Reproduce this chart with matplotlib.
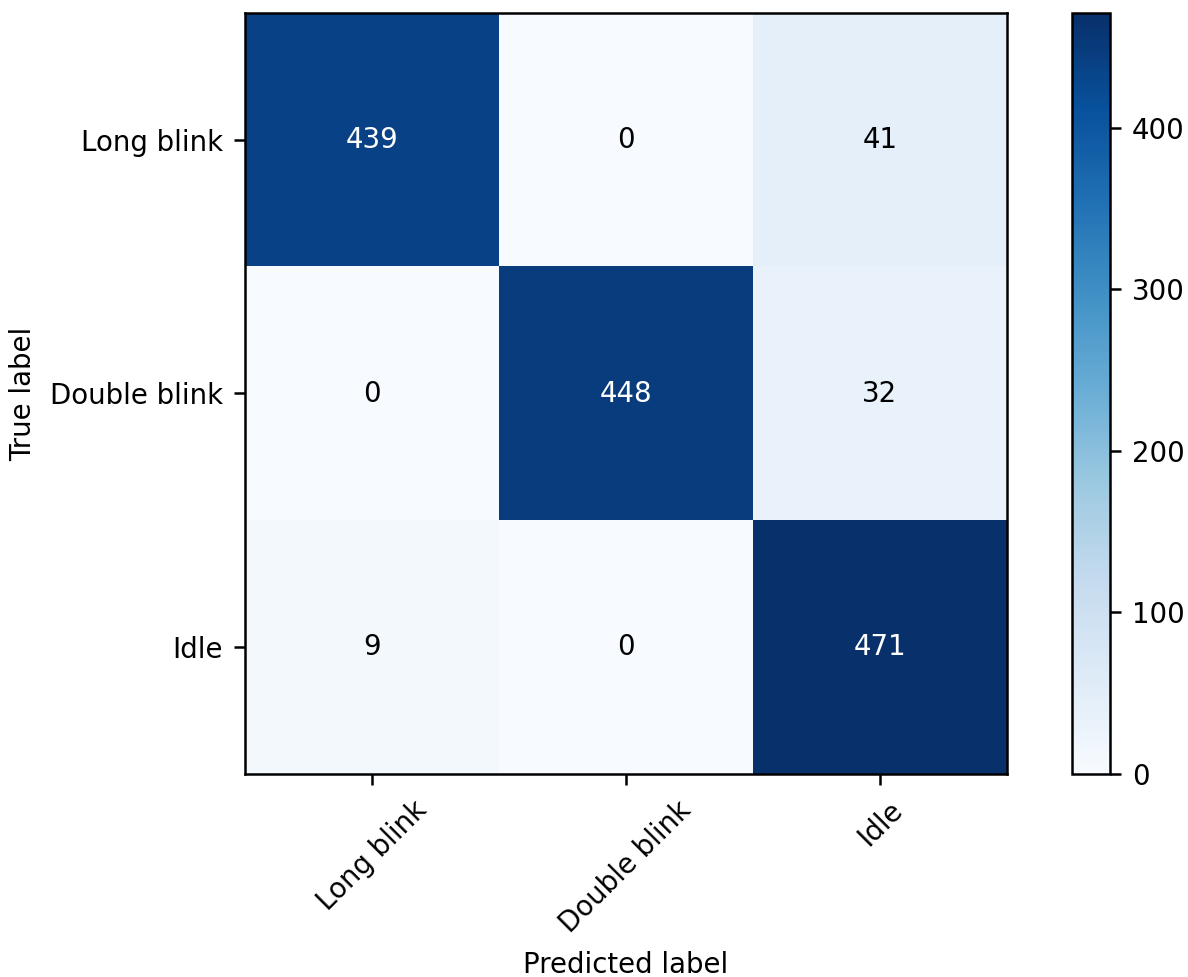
import numpy as np
import matplotlib
matplotlib.use("Agg")
import matplotlib.pyplot as plt

classes = ["Long blink", "Double blink", "Idle"]
row_long_blink = [439, 0, 41]
row_double_blink = [0, 448, 32]
row_idle = [9, 0, 471]
cm = np.array([row_long_blink, row_double_blink, row_idle])

plt.rcParams["font.size"] = 8.85

DPI = 225
fig = plt.figure(figsize=(1188 / DPI, 977 / DPI), dpi=DPI)
ax = fig.add_axes([245 / 1188, 1 - 774 / 977, (1007 - 245) / 1188, (774 - 13) / 977])
cax = fig.add_axes([1072 / 1188, 1 - 774 / 977, 38 / 1188, (774 - 13) / 977])

im = ax.imshow(cm, interpolation="nearest", cmap=plt.cm.Blues, aspect="auto")
cb = fig.colorbar(im, cax=cax)
cb.set_ticks([0, 100, 200, 300, 400])

ticks = np.arange(len(classes))
ax.set_xticks(ticks)
ax.set_xticklabels(classes, rotation=45)
ax.set_yticks(ticks)
ax.set_yticklabels(classes)

thresh = cm.max() / 2.0
for i in range(cm.shape[0]):
    for j in range(cm.shape[1]):
        ax.text(j, i, format(cm[i, j], "d"), ha="center", va="center",
                color="white" if cm[i, j] > thresh else "black")

ax.set_ylabel("True label")
ax.set_xlabel("Predicted label")

fig.savefig("out.png", dpi=DPI)
